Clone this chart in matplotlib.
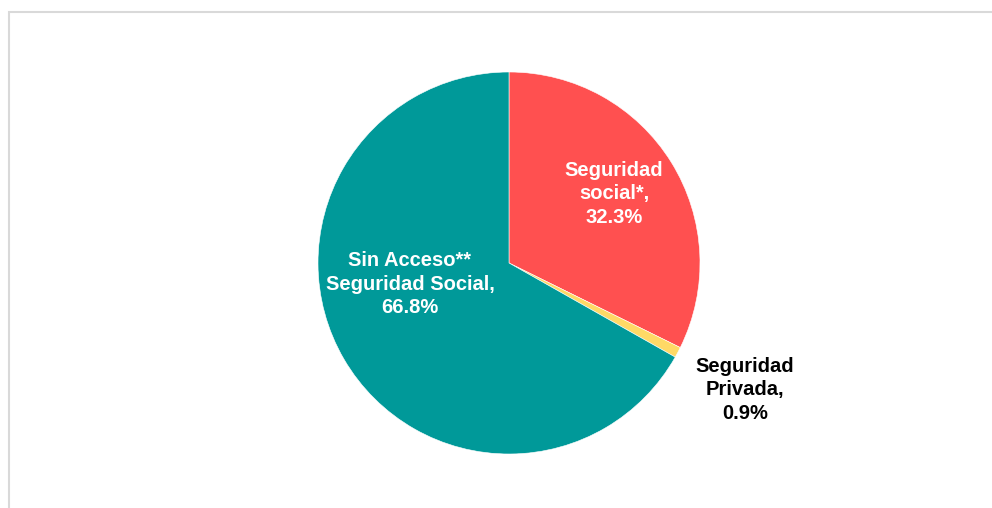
import matplotlib.pyplot as plt
from matplotlib.patches import Rectangle

# Shares of population by type of health coverage
labels = ['Seguridad\nsocial*,\n32.3%', 'Seguridad\nPrivada,\n0.9%', 'Sin Acceso**\nSeguridad Social,\n66.8%']
values = [32.3, 0.9, 66.8]
colors = ['#ff5050', '#ffd966', '#009999']
text_colors = ['white', 'black', 'white']

W, H = 992, 508
cx, cy, r = 509, 263, 191

fig = plt.figure(figsize=(W / 100, H / 100), dpi=100)
ax = fig.add_axes([0, 0, 1, 1])

wedges, _ = ax.pie(values, colors=colors, startangle=90, counterclock=False, radius=1,
                   wedgeprops=dict(edgecolor='white', linewidth=0.4))

# pie() resets the limits, so set them afterwards
ax.set_xlim(-cx / r, (W - cx) / r)
ax.set_ylim(-(H - cy) / r, cy / r)
ax.set_aspect('equal')
ax.axis('off')

# label positions (pixels, from top-left)
label_pos = [(614, 194), (745, 390), (410, 284)]
for lab, (px, py), tc in zip(labels, label_pos, text_colors):
    ax.text((px - cx) / r, (cy - py) / r, lab, ha='center', va='center',
            fontsize=14.5, fontweight='bold', color=tc, family='Liberation Sans',
            linespacing=1.32)

# light gray frame around the chart area
fig.patches.append(Rectangle((9 / W, -0.1), 1.2, (H - 12) / H + 0.1, transform=fig.transFigure,
                             fill=False, edgecolor='#d9d9d9', linewidth=1.5))

fig.savefig('out.png', dpi=100)
